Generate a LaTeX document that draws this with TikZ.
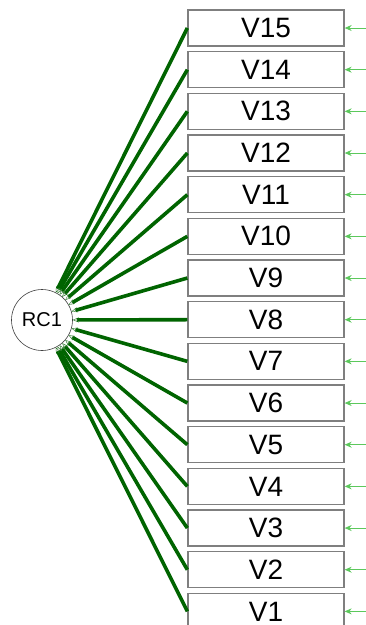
\documentclass[tikz,border=0pt]{standalone}
\usepackage{fontspec}
\setmainfont{Liberation Sans}
\usetikzlibrary{arrows.meta}
\definecolor{load}{HTML}{006400}
\definecolor{resid}{HTML}{5CC85C}
\definecolor{boxgray}{HTML}{7F7F7F}
\tikzset{
  manifest/.style={draw=boxgray,line width=1.3pt,minimum width=156pt,minimum height=36pt,inner sep=0pt,font=\fontsize{28}{28}\selectfont,fill=white},
  latent/.style={draw=black!75,line width=0.6pt,circle,minimum size=61pt,inner sep=0pt,font=\fontsize{20}{20}\selectfont,fill=white},
  loading/.style={draw=load,line width=3.6pt,{Stealth[length=6pt,width=5pt,fill=white!85!gray,line width=0.3pt]}-},
  residual/.style={draw=resid,line width=1pt,-{Stealth[length=7pt,width=6pt]}}
}
\begin{document}
\begin{tikzpicture}[x=1pt,y=-1pt]
\useasboundingbox (0,0) rectangle (366,625);
\clip (0,0) rectangle (366,625);
\node[latent] (rc) at (42,320) {RC1};
\foreach \i in {1,...,15}{
  \pgfmathsetmacro{\yc}{28+(15-\i)*41.67}
  \node[manifest] (v\i) at (266,\yc) {V\i};
  \coordinate (r\i) at (366,\yc);
  \draw[residual] (r\i) -- (v\i.east);
  \draw[loading] (rc) -- (v\i.west);
}
\end{tikzpicture}
\end{document}
